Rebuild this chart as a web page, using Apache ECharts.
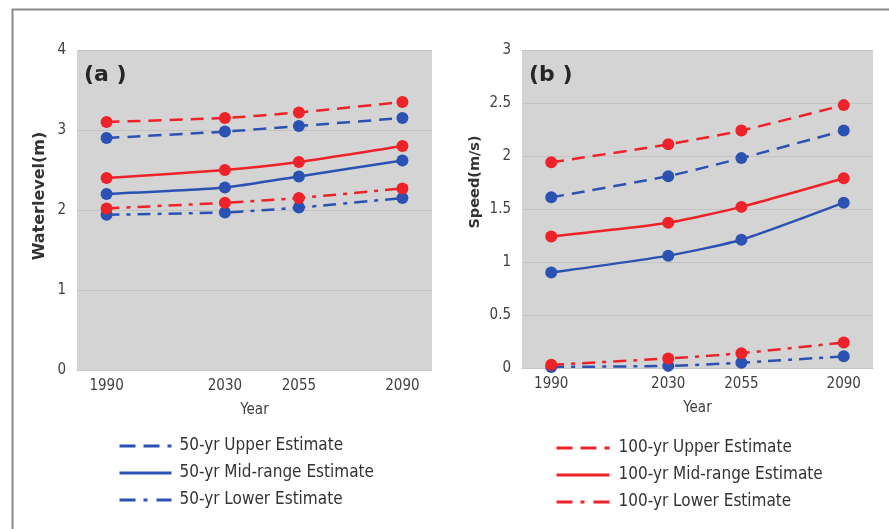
<!DOCTYPE html>
<html>
<head>
<meta charset="utf-8">
<script src="https://cdn.jsdelivr.net/npm/echarts@6/dist/echarts.min.js"></script>
<style>html,body{margin:0;padding:0;background:#fff}#c{width:889px;height:529px}</style>
</head>
<body>
<div id="c"></div>
<script>
const years = [1990, 2030, 2055, 2090];
const yearTicks = [1990, 2030, 2055, 2090];
const seriesNames = {
  u50: '50-yr Upper Estimate', m50: '50-yr Mid-range Estimate', l50: '50-yr Lower Estimate',
  u100: '100-yr Upper Estimate', m100: '100-yr Mid-range Estimate', l100: '100-yr Lower Estimate'
};
// (a) Water level (m)
const wl50Upper = [2.90, 2.98, 3.05, 3.15];
const wl50Mid = [2.20, 2.28, 2.42, 2.62];
const wl50Lower = [1.94, 1.97, 2.03, 2.15];
const wl100Upper = [3.10, 3.15, 3.22, 3.35];
const wl100Mid = [2.40, 2.50, 2.60, 2.80];
const wl100Lower = [2.02, 2.09, 2.15, 2.27];
// (b) Speed (m/s)
const sp50Upper = [1.61, 1.81, 1.98, 2.24];
const sp50Mid = [0.90, 1.06, 1.21, 1.56];
const sp50Lower = [0.01, 0.02, 0.05, 0.11];
const sp100Upper = [1.94, 2.11, 2.24, 2.48];
const sp100Mid = [1.24, 1.37, 1.52, 1.79];
const sp100Lower = [0.03, 0.09, 0.14, 0.24];

const BLUE = '#2b52b3', RED = '#ee2229';
const FONT = "'Liberation Sans Narrow', 'DejaVu Sans Condensed', 'Liberation Sans', sans-serif";
const DASH = [13, 8], DASHDOT = [13, 7, 4, 7];
const LEG_DASH = [16, 8], LEG_DASHDOT = [16, 8, 4, 9];

function pts(vals) { return years.map((y, i) => [y, vals[i]]); }
function mk(name, vals, color, type, idx) {
  return {
    type: 'line', name: name, xAxisIndex: idx, yAxisIndex: idx,
    data: pts(vals), smooth: 0.2, symbol: 'circle', symbolSize: 12,
    itemStyle: { color: color }, lineStyle: { color: color, width: 2.5, type: type },
    emphasis: { disabled: true }, animation: false
  };
}

const chart = echarts.init(document.getElementById('c'), null, { renderer: 'canvas' });
const axisLab = { color: '#404040', fontSize: 15, fontFamily: FONT };
function xAx(idx) {
  return {
    type: 'value', gridIndex: idx, min: 1980, max: 2100,
    name: 'Year', nameLocation: 'middle', nameGap: 33,
    nameTextStyle: { color: '#404040', fontSize: 15, fontFamily: FONT },
    axisLine: { show: true, lineStyle: { color: '#c8c8c8' } },
    axisTick: { show: false },
    splitLine: { show: false },
    axisLabel: Object.assign({ customValues: yearTicks, margin: 9, formatter: v => String(v) }, axisLab)
  };
}
function yAx(idx, max, interval, name, shift, gap, fs) {
  return {
    type: 'value', gridIndex: idx, min: 0, max: max, interval: interval,
    name: name, nameLocation: 'middle', nameGap: gap,
    nameTextStyle: { color: '#333', fontSize: fs, fontWeight: 'bold', fontFamily: "'DejaVu Sans', sans-serif", padding: [0, 0, 0, shift] },
    axisLine: { show: false }, axisTick: { show: false },
    splitLine: { show: true, lineStyle: { color: '#c4c4c4', width: 1 } },
    axisLabel: Object.assign({ margin: 11 }, axisLab)
  };
}
function legItems(names, color) {
  return [
    { name: names[0], lineStyle: { type: LEG_DASH, width: 3, color: color } },
    { name: names[1], lineStyle: { type: 'solid', width: 3, color: color } },
    { name: names[2], lineStyle: { type: LEG_DASHDOT, width: 3, color: color } }
  ];
}

chart.setOption({
  animation: false,
  backgroundColor: '#fff',
  grid: [
    { left: 77, top: 50, width: 355, height: 320, show: true, backgroundColor: '#d4d4d4', borderWidth: 0 },
    { left: 522, top: 50, width: 351, height: 318, show: true, backgroundColor: '#d4d4d4', borderWidth: 0 }
  ],
  xAxis: [xAx(0), xAx(1)],
  yAxis: [yAx(0, 4, 1, 'Waterlevel(m)', 28, 29, 16), yAx(1, 3, 0.5, 'Speed(m/s)', 54, 39, 14.5)],
  legend: [
    {
      orient: 'vertical', left: 118, top: 437, padding: 0, itemWidth: 52, itemHeight: 14, itemGap: 9,
      data: legItems([seriesNames.u50, seriesNames.m50, seriesNames.l50], BLUE),
      itemStyle: { opacity: 0 },
      textStyle: { color: '#333', fontSize: 17, lineHeight: 18, fontFamily: FONT, padding: [0, 0, 0, 3] },
      selectedMode: false
    },
    {
      orient: 'vertical', left: 555, top: 439, padding: 0, itemWidth: 53, itemHeight: 14, itemGap: 9,
      data: legItems([seriesNames.u100, seriesNames.m100, seriesNames.l100], RED),
      itemStyle: { opacity: 0 },
      textStyle: { color: '#333', fontSize: 17, lineHeight: 18, fontFamily: FONT, padding: [0, 0, 0, 4] },
      selectedMode: false
    }
  ],
  graphic: [
    { type: 'rect', left: 10, top: 7, shape: { width: 900, height: 600 }, style: { fill: 'none', stroke: '#8a8a8a', lineWidth: 2 }, silent: true, z: 100 },
    { type: 'text', left: 84, top: 64, style: { text: '(a )', fill: '#262626', font: "bold 22px 'DejaVu Sans', sans-serif" }, z: 100 },
    { type: 'text', left: 529, top: 64, style: { text: '(b )', fill: '#262626', font: "bold 22px 'DejaVu Sans', sans-serif" }, z: 100 }
  ],
  series: [
    mk(seriesNames.u50, wl50Upper, BLUE, DASH, 0),
    mk(seriesNames.m50, wl50Mid, BLUE, 'solid', 0),
    mk(seriesNames.l50, wl50Lower, BLUE, DASHDOT, 0),
    mk(seriesNames.u100, wl100Upper, RED, DASH, 0),
    mk(seriesNames.m100, wl100Mid, RED, 'solid', 0),
    mk(seriesNames.l100, wl100Lower, RED, DASHDOT, 0),
    mk(seriesNames.u50, sp50Upper, BLUE, DASH, 1),
    mk(seriesNames.m50, sp50Mid, BLUE, 'solid', 1),
    mk(seriesNames.l50, sp50Lower, BLUE, DASHDOT, 1),
    mk(seriesNames.u100, sp100Upper, RED, DASH, 1),
    mk(seriesNames.m100, sp100Mid, RED, 'solid', 1),
    mk(seriesNames.l100, sp100Lower, RED, DASHDOT, 1)
  ]
});
</script>
</body>
</html>
